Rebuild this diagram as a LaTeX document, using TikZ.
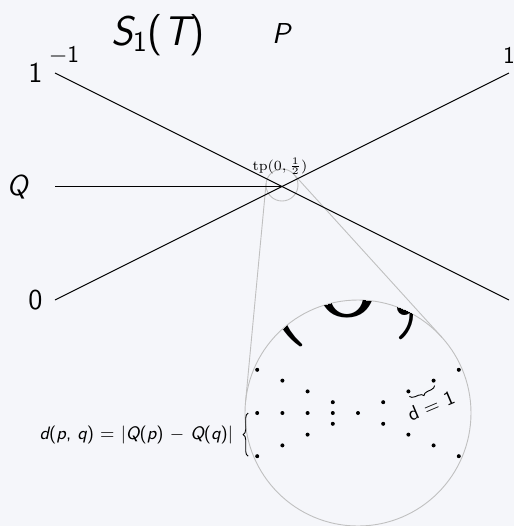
\documentclass[tikz,border=0pt]{standalone}
\definecolor{paperBg}{RGB}{245,246,250}
\definecolor{lensGray}{RGB}{192,192,192}
\usepackage{tikz}
\usetikzlibrary{positioning, calc, decorations.pathreplacing}
\newcommand{\sv}[1]{{\sffamily\itshape #1}}

\begin{document}
\begin{tikzpicture}[
    x=0.5pt, y=-0.5pt,
    every node/.style={font=\sffamily},
    axislabel/.style={font=\sffamily\Large, inner sep=0pt},
    wire/.style={draw=black, line width=0.5pt},
    ray/.style={draw=lensGray, line width=0.45pt},
    lens/.style={draw=lensGray, circle, inner sep=0pt, outer sep=0pt, line width=0.45pt},
    dot/.style={fill=black},
    bracket/.style={decorate, decoration={brace, amplitude=2.5pt}, line width=0.45pt}
  ]
    \fill[paperBg] (0,0) rectangle (514,526);
    \useasboundingbox (0,0) rectangle (514,526);

    \coordinate (top-l) at (55,73);
    \coordinate (bot-l) at (55,300);
    \coordinate (top-r) at (509,73);
    \coordinate (bot-r) at (509,300);
    \coordinate (q-l) at (55,186.5);
    \coordinate (cross) at (282,186.5);

    \node[lens, minimum size=16pt] (lens) at (282,185) {};
    \node[lens, minimum size=113pt] (zoom) at (358,413) {};
    \draw[ray] (lens.174.6) -- (zoom.174.6);
    \draw[ray] (lens.42.2) -- (zoom.42.2);

    \draw[wire] (top-l) -- (bot-r);
    \draw[wire] (bot-l) -- (top-r);
    \draw[wire] (q-l) -- (cross);

    \node[axislabel, left=6pt of top-l] (one-l) {1};
    \node[font=\sffamily\large, inner sep=0pt] (minus-one) at (64,55) {$-$1};
    \node[axislabel, left=13.5pt of q-l] (q) {\sv{Q}};
    \node[axislabel, left=6pt of bot-l] (zero) {0};
    \node[font=\sffamily\large, inner sep=0pt, above=4.5pt of top-r] (one-r) {1};
    \node[font=\sffamily\huge, inner sep=0pt] (seq) at (158,35) {\sv{S}\textsubscript{1}(\sv{T})};
    \node[font=\sffamily\Large, inner sep=0pt] (p) at (281,33) {\sv{P}};

    \node[font=\scriptsize, inner sep=0pt, anchor=base] (tp) at (280,170) {$\mathrm{tp}(0,\frac{1}{2})$};
    \begin{scope}
      \clip (358,413) circle (113);
      \node[font=\scriptsize, inner sep=0pt, anchor=base, scale=9] (tp-big) at (366,315) {$\mathrm{tp}(0,\frac{1}{2})$};
    \end{scope}

    \fill[dot] (358,413) coordinate (m-0) circle (2);
    \foreach \k in {1,...,4} {
      \fill[dot] ({358-25.2*\k},413) coordinate (m-\k) circle (2);
      \fill[dot] ({358-25.2*\k},{413-10.8*\k}) coordinate (ul-\k) circle (2);
      \fill[dot] ({358-25.2*\k},{413+10.8*\k}) coordinate (dl-\k) circle (2);
      \fill[dot] ({358+25.2*\k},{413-10.8*\k}) coordinate (ur-\k) circle (2);
      \fill[dot] ({358+25.2*\k},{413+10.8*\k}) coordinate (dr-\k) circle (2);
    }

    \draw[bracket] ($(dl-4)+(-9,0)$) -- ($(m-4)+(-9,0)$)
      node[midway, left=4pt] (dist) {\small\sv{d}(\sv{p}, \sv{q}) = |\sv{Q}(\sv{p}) $-$ \sv{Q}(\sv{q})|};
    \draw[bracket] ($(ur-3)+(1,5)$) -- ($(ur-2)+(1,5)$);
    \node[rotate=23, inner sep=0pt] (unit) at ($(ur-2)!0.5!(ur-3)+(10,20)$) {d = 1};
\end{tikzpicture}
\end{document}
